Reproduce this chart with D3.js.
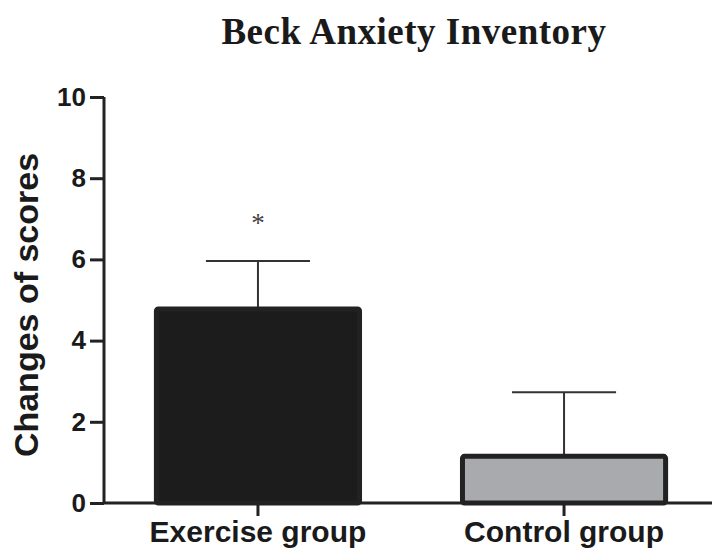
<!DOCTYPE html>
<html><head><meta charset="utf-8">
<script src="https://cdn.jsdelivr.net/npm/d3@7"></script>
<style>body{margin:0;background:#fff}</style>
</head><body>
<svg id="c" width="712" height="550"></svg>
<script>
const categories = ["Exercise group", "Control group"];
const means = [4.78, 1.15];
const errors = [1.18, 1.58];
const fills = ["#1c1c1c", "#a9aaae"];
const yTicks = [0, 2, 4, 6, 8, 10];
const significance = ["*", ""];

const svg = d3.select("#c");
const y = d3.scaleLinear().domain([0, 10]).range([503, 97]);
const x = d3.scaleBand().domain(categories).range([104, 718]).paddingInner(0.32).paddingOuter(0.163);
const dark = "#222";

// title
svg.append("text").attr("x", 414).attr("y", 44).attr("text-anchor", "middle")
  .attr("font-family", "Liberation Serif, Times New Roman, serif").attr("font-weight", "bold")
  .attr("font-size", 37).attr("letter-spacing", 0.5).attr("fill", "#1a1a1a").text("Beck Anxiety Inventory");

// error bars (behind bars)
const eb = svg.append("g").attr("stroke", "#333").attr("stroke-width", 2);
categories.forEach((c, i) => {
  const cx = x(c) + x.bandwidth() / 2;
  const cw = x.bandwidth() / 4;
  eb.append("line").attr("x1", cx).attr("x2", cx).attr("y1", y(means[i])).attr("y2", y(means[i] + errors[i]));
  eb.append("line").attr("x1", cx - cw).attr("x2", cx + cw).attr("y1", y(means[i] + errors[i])).attr("y2", y(means[i] + errors[i]));
});

// bars
svg.append("g").selectAll("rect").data(categories).join("rect")
  .attr("x", d => x(d) + 2.5).attr("width", x.bandwidth() - 5)
  .attr("y", (d, i) => y(means[i])).attr("height", (d, i) => y(0) - y(means[i]))
  .attr("fill", (d, i) => fills[i]).attr("stroke", dark).attr("stroke-width", 5)
  .attr("rx", 2);

// significance
categories.forEach((c, i) => {
  if (!significance[i]) return;
  svg.append("text").attr("x", x(c) + x.bandwidth() / 2).attr("y", y(means[i] + errors[i]) - 29)
    .attr("text-anchor", "middle").attr("font-family", "Liberation Serif, serif")
    .attr("font-size", 27).attr("fill", "#444").text(significance[i]);
});

// y axis
const ya = svg.append("g").attr("transform", "translate(104,0)")
  .call(d3.axisLeft(y).tickValues(yTicks).tickSize(14).tickPadding(4).tickFormat(d3.format("d")));
ya.select(".domain").attr("stroke", dark).attr("stroke-width", 3).attr("d", `M0,${y(10)}V${y(0)}`);
ya.selectAll(".tick line").attr("stroke", dark).attr("stroke-width", 3);
ya.selectAll(".tick text").attr("font-family", "Liberation Sans, Arial, sans-serif")
  .attr("font-weight", "bold").attr("font-size", 26).attr("fill", "#1a1a1a");

// x axis
const xa = svg.append("g").attr("transform", `translate(0,${y(0)})`)
  .call(d3.axisBottom(x).tickSize(13).tickPadding(5));
xa.select(".domain").attr("stroke", dark).attr("stroke-width", 3).attr("d", "M104,0H712");
xa.selectAll(".tick line").attr("stroke", dark).attr("stroke-width", 3);
xa.selectAll(".tick text").attr("font-family", "Liberation Sans, Arial, sans-serif")
  .attr("font-weight", "bold").attr("font-size", 30).attr("fill", "#1a1a1a");

// y label
svg.append("text").attr("transform", `translate(38,${(y(0) + y(10)) / 2 + 5}) rotate(-90)`)
  .attr("text-anchor", "middle").attr("font-family", "Liberation Sans, Arial, sans-serif")
  .attr("font-weight", "bold").attr("font-size", 34).attr("fill", "#1a1a1a").text("Changes of scores");
</script>
</body></html>
